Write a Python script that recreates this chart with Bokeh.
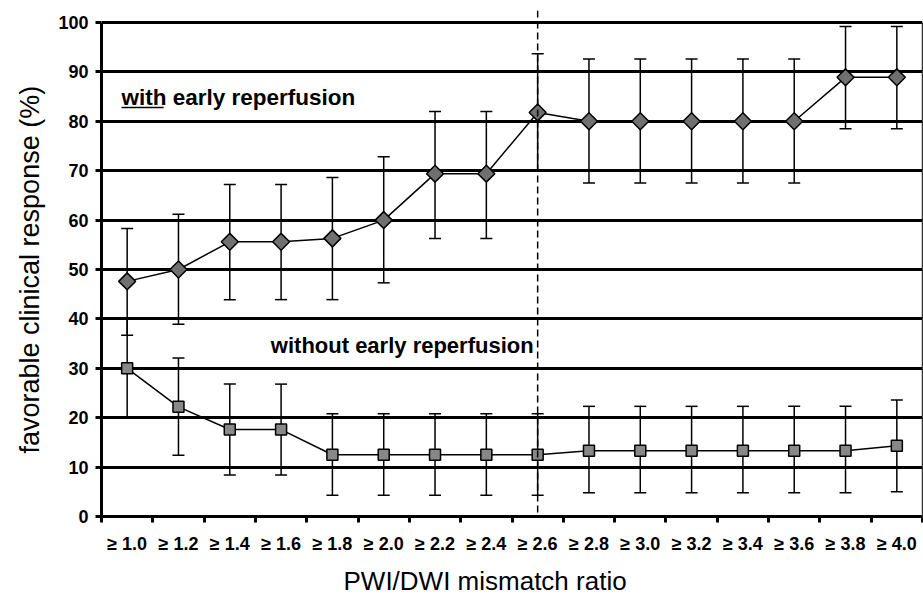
import numpy as np
from bokeh.plotting import figure
from bokeh.models import (ColumnDataSource, Whisker, TeeHead, FixedTicker, Span,
                          LinearAxis, Range1d, Label, Title)
from bokeh.embed import file_html
from bokeh.resources import INLINE

# ---- data ----
categories = ["≥ 1.0", "≥ 1.2", "≥ 1.4", "≥ 1.6", "≥ 1.8", "≥ 2.0", "≥ 2.2", "≥ 2.4",
              "≥ 2.6", "≥ 2.8", "≥ 3.0", "≥ 3.2", "≥ 3.4", "≥ 3.6", "≥ 3.8", "≥ 4.0"]
with_reperf = [47.6, 50.0, 55.6, 55.6, 56.3, 60.0, 69.4, 69.4, 81.8, 80.0, 80.0, 80.0, 80.0, 80.0, 88.9, 88.9]
with_upper = [58.3, 61.2, 67.2, 67.2, 68.6, 72.8, 82.0, 82.0, 93.7, 92.6, 92.6, 92.6, 92.6, 92.6, 99.2, 99.2]
with_lower = [36.7, 38.9, 43.9, 43.9, 43.9, 47.3, 56.3, 56.3, 70.0, 67.5, 67.5, 67.5, 67.5, 67.5, 78.5, 78.5]
without_reperf = [30.0, 22.2, 17.6, 17.6, 12.5, 12.5, 12.5, 12.5, 12.5, 13.3, 13.3, 13.3, 13.3, 13.3, 13.3, 14.3]
without_upper = [40.2, 32.1, 26.8, 26.8, 20.8, 20.8, 20.8, 20.8, 20.8, 22.3, 22.3, 22.3, 22.3, 22.3, 22.3, 23.6]
without_lower = [19.9, 12.4, 8.4, 8.4, 4.3, 4.3, 4.3, 4.3, 4.3, 4.8, 4.8, 4.8, 4.8, 4.8, 4.8, 5.0]
threshold_category = "≥ 2.6"
y_ticks = [0, 10, 20, 30, 40, 50, 60, 70, 80, 90, 100]
x_title = "PWI/DWI mismatch ratio"
y_title = "favorable clinical response (%)"

FONT = "'Liberation Sans', Arial, sans-serif"

xs = list(range(1, len(categories) + 1))
src_with = ColumnDataSource(dict(x=xs, y=with_reperf, up=with_upper, lo=with_lower))
src_without = ColumnDataSource(dict(x=xs, y=without_reperf, up=without_upper, lo=without_lower))

p = figure(width=923, height=602, output_backend="svg", toolbar_location=None,
           x_range=Range1d(0.5, len(categories) + 0.5), y_range=Range1d(0, 102.43),
           min_border_left=101, min_border_right=1, min_border_top=10, min_border_bottom=86)
p.outline_line_color = None
p.background_fill_color = "white"
p.border_fill_color = "white"

# grid
p.xgrid.visible = False
p.ygrid.ticker = FixedTicker(ticks=y_ticks[1:])
p.ygrid.grid_line_color = "black"
p.ygrid.grid_line_width = 3

# axes
yax = p.yaxis[0]
yax.ticker = FixedTicker(ticks=y_ticks)
yax.bounds = (0, 100)
yax.axis_line_width = 3
yax.major_tick_line_width = 3
yax.major_tick_out = 6
yax.major_tick_in = 0
yax.minor_tick_line_color = None
yax.major_label_text_font = FONT
yax.major_label_text_font_style = "bold"
yax.major_label_text_font_size = "18px"
yax.major_label_text_color = "black"
yax.major_label_standoff = 7

xax = p.xaxis[0]
xax.ticker = FixedTicker(ticks=xs, minor_ticks=[x - 0.5 for x in xs] + [len(xs) + 0.5])
xax.major_label_overrides = {x: c for x, c in zip(xs, categories)}
xax.axis_line_width = 3
xax.major_tick_line_color = None
xax.minor_tick_line_color = "black"
xax.minor_tick_line_width = 3
xax.minor_tick_out = 6
xax.minor_tick_in = 0
xax.major_label_text_font = FONT
xax.major_label_text_font_style = "bold"
xax.major_label_text_font_size = "18px"
xax.major_label_text_color = "black"
xax.major_label_standoff = 11

rax = LinearAxis(ticker=FixedTicker(ticks=[]), bounds=(0, 100), axis_line_width=1.5,
                 axis_line_color="#333333", major_tick_out=0, major_tick_in=0,
                 minor_tick_out=0, minor_tick_in=0, major_label_text_font_size="0px",
                 major_label_standoff=0)
p.add_layout(rax, "right")

# axis titles as side titles (allow offsets like the reference)
p.add_layout(Title(text=x_title, text_font=FONT, text_font_size="26px", text_font_style="normal",
                   text_color="black", align="left", offset=242, standoff=14), "below")
p.add_layout(Title(text=y_title, text_font=FONT, text_font_size="27px", text_font_style="normal",
                   text_color="black", align="left", offset=63, standoff=22), "left")

# threshold dashed line
thr_x = xs[categories.index(threshold_category)]
p.add_layout(Span(location=thr_x, dimension="height", line_color="black",
                  line_width=1.5, line_dash="7 4"))

# error bars
for src in (src_with, src_without):
    w = Whisker(source=src, base="x", upper="up", lower="lo", line_color="black", line_width=1.5,
                upper_head=TeeHead(size=12, line_width=1.5, line_color="black"),
                lower_head=TeeHead(size=12, line_width=1.5, line_color="black"))
    p.add_layout(w)

# lines & markers
p.line("x", "y", source=src_with, line_color="black", line_width=1.5)
p.scatter("x", "y", source=src_with, marker="square", angle=np.pi / 4, size=12,
          fill_color="#707070", line_color="black", line_width=1.5)
p.line("x", "y", source=src_without, line_color="black", line_width=1.5)
p.scatter("x", "y", source=src_without, marker="square", size=11,
          fill_color="#888888", line_color="black", line_width=1.5)

# annotations
p.add_layout(Label(x=0.89, y=84.8, text="with early reperfusion", text_font=FONT,
                   text_font_style="bold", text_font_size="22.5px", text_color="black",
                   text_baseline="alphabetic"))
p.segment(x0=[0.89], y0=[82.8], x1=[1.71], y1=[82.8], line_color="black", line_width=1.5)
p.add_layout(Label(x=3.80, y=34.6, text="without early reperfusion", text_font=FONT,
                   text_font_style="bold", text_font_size="22px", text_color="black",
                   text_baseline="alphabetic"))

open("out.html", "w").write(file_html(p, INLINE))
